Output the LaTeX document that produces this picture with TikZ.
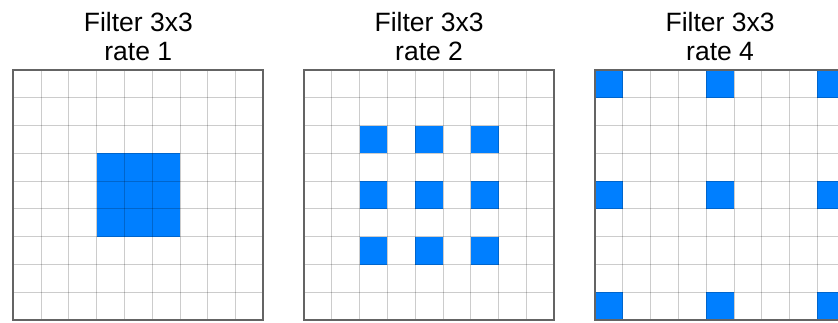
\documentclass[tikz,border=0pt]{standalone}
\usepackage{fontspec}
\setmainfont{Liberation Sans}
\definecolor{cellblue}{RGB}{0,127,255}
\definecolor{framegray}{RGB}{100,100,100}
\begin{document}
\begin{tikzpicture}[x=1pt,y=-1pt,
  titletext/.style={font=\fontsize{26.5}{29.5}\selectfont, inner sep=0pt, anchor=base, text=black},
  gridline/.style={draw=black, draw opacity=0.2, line width=1pt},
  gridborder/.style={draw=framegray, line width=2pt},
  bluecell/.style={fill=cellblue}]
\useasboundingbox (0,0) rectangle (838,323);
\clip (0,0) rectangle (838,323);
\def\cs{27.8}
\foreach \gx/\rr in {13.2/1, 304/2, 595/4}{
  % blue cells
  \foreach \i in {-1,0,1}{
    \foreach \j in {-1,0,1}{
      \fill[bluecell] ({\gx+(4+\i*\rr)*\cs},{70+(4+\j*\rr)*\cs}) rectangle ++(\cs,\cs);
    }
  }
  % grid lines
  \foreach \k in {1,...,8}{
    \draw[gridline] ({\gx+\k*\cs},70) -- ++(0,9*\cs);
    \draw[gridline] (\gx,{70+\k*\cs}) -- ++(9*\cs,0);
  }
  % border
  \draw[gridborder] (\gx,70) rectangle ++(9*\cs,9*\cs);
  % titles
  \node[titletext] (title\rr a) at ({\gx+4.5*\cs},31.7) {Filter 3x3};
  \node[titletext] (title\rr b) at ({\gx+4.5*\cs},61) {rate \rr};
}
\end{tikzpicture}
\end{document}
